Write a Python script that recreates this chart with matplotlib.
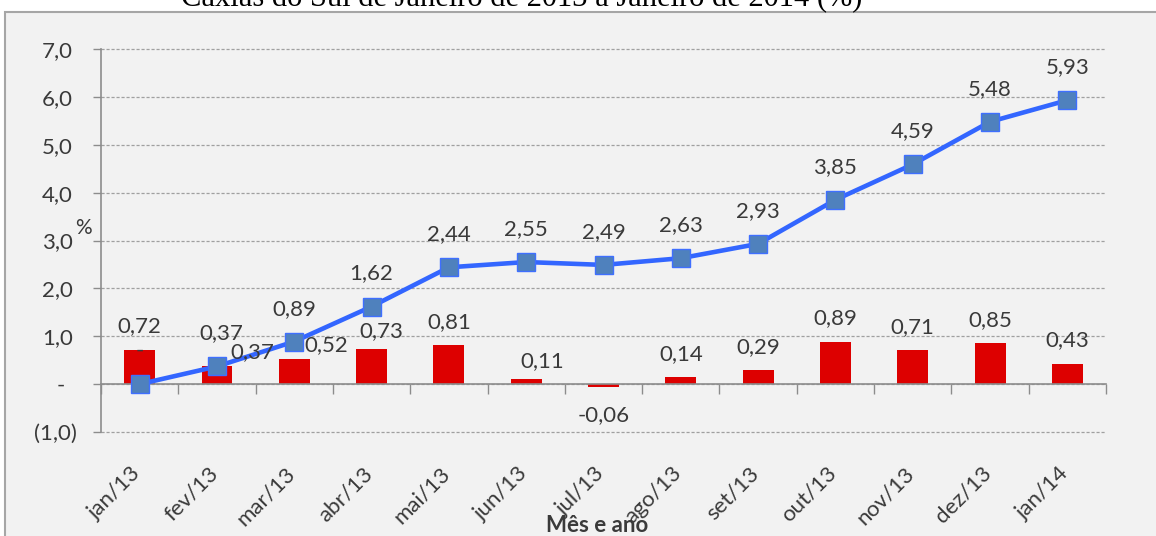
import matplotlib
matplotlib.use("Agg")
import matplotlib.pyplot as plt
import matplotlib.transforms as mtransforms
from matplotlib.patches import Rectangle
import numpy as np

# ---------------- data ----------------
months = ["jan/13", "fev/13", "mar/13", "abr/13", "mai/13", "jun/13", "jul/13",
          "ago/13", "set/13", "out/13", "nov/13", "dez/13", "jan/14"]
monthly = [0.72, 0.37, 0.52, 0.73, 0.81, 0.11, -0.06, 0.14, 0.29, 0.89, 0.71, 0.85, 0.43]
accumulated = [0.00, 0.37, 0.89, 1.62, 2.44, 2.55, 2.49, 2.63, 2.93, 3.85, 4.59, 5.48, 5.93]
yticks = [-1, 0, 1, 2, 3, 4, 5, 6, 7]
title = "Caxias do Sul de Janeiro de 2013 a Janeiro de 2014 (%)"
xlabel = "Mês e ano"
ylabel = "%"

FONT = "Lato"
TXT = "#3a3a3a"
W, H = 1156, 536
plt.rcParams["font.family"] = [FONT, "DejaVu Sans"]

fig = plt.figure(figsize=(W / 100, H / 100), dpi=100, facecolor="white")

# grey chart panel
fig.patches.append(Rectangle((5 / W, -0.05), 1.2, 1 - 12 / H + 0.05, transform=fig.transFigure,
                             facecolor="#f2f2f2", edgecolor="#a6a6a6", linewidth=1.5, zorder=-5))
fig.text(522 / W, 1 - 6 / H, title, family="Liberation Serif", fontsize=22,
         ha="center", va="baseline", color="black")

ax = fig.add_axes([101 / W, 1 - 432 / H, (1106 - 101) / W, (432 - 49) / H])
ax.set_facecolor("none")

x = np.arange(len(months))
ax.bar(x, monthly, width=0.4, color="#dd0000", zorder=2)
ax.plot(x, accumulated, color="#3366ff", linewidth=3.3, marker="s", markersize=13,
        markerfacecolor="#4f81bd", markeredgecolor="#3f6fff", markeredgewidth=1, zorder=3)

ax.set_xlim(-0.5, len(months) - 0.5)
ax.set_ylim(-1, 7)


def fmt(v):
    if abs(v) < 1e-9:
        return "-"
    return f"{v:.2f}".replace(".", ",")


PT = 0.72  # points per pixel
bar_off = {1: (4, 33), 2: (32, 14), 3: (10, 18), 5: (16, 18)}
line_off = {1: (35, 14), 2: (0, 32)}
for i, v in enumerate(monthly):
    dx, dy = bar_off.get(i, (0, 23.5 if v >= 0 else -28))
    ax.annotate(fmt(v), (x[i], v), xytext=(dx * PT, dy * PT), textcoords="offset points",
                ha="center", va="center", fontsize=16, color=TXT, zorder=4)
for i, v in enumerate(accumulated):
    dx, dy = line_off.get(i, (0, 33))
    ax.annotate(fmt(v), (x[i], v), xytext=(dx * PT, dy * PT), textcoords="offset points",
                ha="center", va="center", fontsize=16, color=TXT, zorder=4)

# axes styling
for s in ["top", "right"]:
    ax.spines[s].set_visible(False)
ax.spines["left"].set_color("#8c8c8c")
ax.spines["bottom"].set_color("#8c8c8c")
ax.spines["bottom"].set_position(("data", 0))
ax.spines["left"].set_linewidth(1.2)
ax.spines["bottom"].set_linewidth(1.2)

ax.set_yticks(yticks)


def yfmt(v):
    if v == 0:
        return "-"
    if v < 0:
        return "(" + f"{abs(v):.1f}".replace(".", ",") + ")"
    return f"{v:.1f}".replace(".", ",")


ax.set_yticklabels([yfmt(v) for v in yticks])
ax.tick_params(axis="y", length=8 * PT, width=1, color="#8c8c8c", pad=20 * PT,
               labelsize=16, labelcolor=TXT)
ax.yaxis.grid(True, color="#a0a0a0", linestyle=(0, (2.5, 1.5)), linewidth=0.9)
for gl in ax.get_ygridlines():
    gl.set_clip_on(False)
ax.set_axisbelow(True)

ax.set_xticks(x)
ax.set_xticks(np.arange(-0.5, len(months)), minor=True)
ax.set_xticklabels(months, rotation=45, ha="right", va="top")
ax.tick_params(axis="x", which="major", length=0, pad=79 * PT, labelsize=16, labelcolor=TXT)
ax.tick_params(axis="x", which="minor", length=10 * PT, width=1, color="#8c8c8c", direction="out")

offs = mtransforms.ScaledTranslation(5 / 100, 0, fig.dpi_scale_trans)
for lab in ax.get_xticklabels():
    lab.set_transform(lab.get_transform() + offs)
for lab in ax.get_yticklabels():
    t = lab.get_text()
    sh = 4 if t.endswith(")") else (-8 if t == "-" else 0)
    lab.set_transform(lab.get_transform() + mtransforms.ScaledTranslation(sh / 100, 0, fig.dpi_scale_trans))

fig.text(83 / W, 1 - 228 / H, ylabel, fontsize=15, color=TXT, ha="center", va="center")
fig.text(597 / W, 1 - 532 / H, xlabel, fontsize=16, fontweight="bold", color=TXT,
         ha="center", va="baseline")

fig.savefig("out.png", dpi=100, facecolor="white")
